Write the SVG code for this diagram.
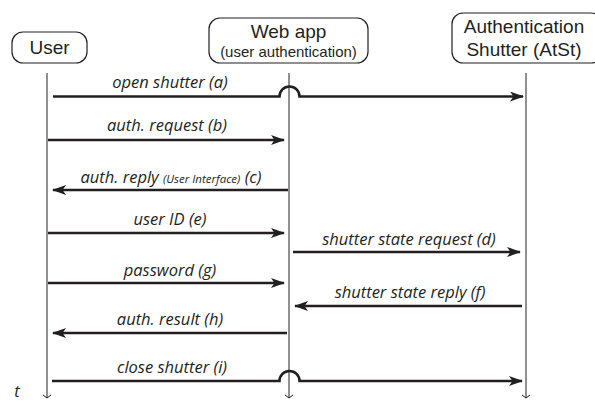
<svg xmlns="http://www.w3.org/2000/svg" width="595" height="401" viewBox="0 0 595 401">
<style>
.box{fill:#fff;stroke:#231f20;stroke-width:1.2}
.life{stroke:#231f20;stroke-width:1;fill:none}
.msg{stroke:#231f20;stroke-width:2.6;fill:none}
.t{font-family:"Liberation Sans","Open Sans",sans-serif;fill:#231f20;text-anchor:middle}
.lbl{font-family:"Open Sans","Noto Sans",sans-serif;font-style:italic;font-size:16.5px;fill:#231f20;text-anchor:middle}
</style>
<defs>
<marker id="ah" viewBox="0 0 14 10" refX="13" refY="5" markerWidth="14" markerHeight="10" markerUnits="userSpaceOnUse" orient="auto">
<path d="M0,0 L14,5 L0,10 L3.5,5 Z" fill="#231f20"/>
</marker>
</defs>
<g id="user">
<rect class="box" x="12" y="32" width="75" height="31" rx="11"/>
<text class="t" x="49.5" y="54" font-size="19">User</text>
<line class="life" x1="47" y1="73" x2="47" y2="398"/>
<path d="M43,395 L47,398 L51,395" fill="none" stroke="#231f20" stroke-width="1"/>
</g>
<g id="webapp">
<rect class="box" x="209" y="18" width="159" height="45" rx="11"/>
<text class="t" x="288.5" y="38" font-size="19">Web app</text>
<text class="t" x="288.5" y="56.5" font-size="15">(user authentication)</text>
<line class="life" x1="289" y1="73" x2="289" y2="398"/>
<path d="M285,395 L289,398 L293,395" fill="none" stroke="#231f20" stroke-width="1"/>
</g>
<g id="atst">
<rect class="box" x="452" y="13" width="150" height="50" rx="11"/>
<text class="t" x="524" y="33" font-size="19">Authentication</text>
<text class="t" x="524" y="56" font-size="19">Shutter (AtSt)</text>
<line class="life" x1="526" y1="73" x2="526" y2="398"/>
<path d="M522,395 L526,398 L530,395" fill="none" stroke="#231f20" stroke-width="1"/>
</g>
<g id="connectors">
<path class="msg" d="M53,96.5 H279.5 A10,10 0 0 1 299.5,96.5 H523" marker-end="url(#ah)"/>
<text class="lbl" x="170" y="88">open shutter (a)</text>
<path class="msg" d="M48,140 H284" marker-end="url(#ah)"/>
<text class="lbl" x="167" y="131">auth. request (b)</text>
<path class="msg" d="M288,190 H53" marker-end="url(#ah)"/>
<text class="lbl" x="171" y="183">auth. reply <tspan font-size="11.5">(User Interface)</tspan> (c)</text>
<path class="msg" d="M48,233 H284" marker-end="url(#ah)"/>
<text class="lbl" x="170" y="225">user ID (e)</text>
<path class="msg" d="M293,252 H520" marker-end="url(#ah)"/>
<text class="lbl" x="409" y="245">shutter state request (d)</text>
<path class="msg" d="M522,306 H295" marker-end="url(#ah)"/>
<text class="lbl" x="410" y="298">shutter state reply (f)</text>
<path class="msg" d="M48,283 H284" marker-end="url(#ah)"/>
<text class="lbl" x="170" y="276">password (g)</text>
<path class="msg" d="M287,333 H53" marker-end="url(#ah)"/>
<text class="lbl" x="170" y="325">auth. result (h)</text>
<path class="msg" d="M52,381 H279.5 A10,10 0 0 1 299.5,381 H522" marker-end="url(#ah)"/>
<text class="lbl" x="172" y="373">close shutter (i)</text>
</g>
<text class="lbl" x="17" y="397" font-size="19">t</text>
</svg>
